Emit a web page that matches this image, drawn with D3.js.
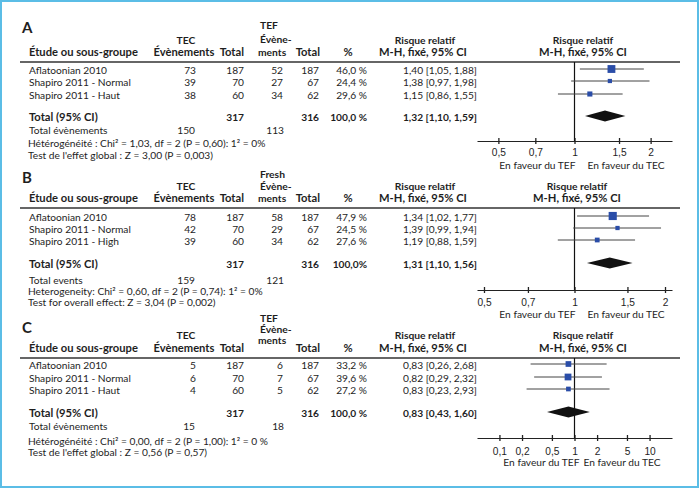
<!DOCTYPE html>
<html>
<head>
<meta charset="utf-8">
<script src="https://cdn.jsdelivr.net/npm/d3@7"></script>
<style>
  body { margin: 0; background: #fff; }
  svg { font-family: Lato, "Open Sans", sans-serif; fill: #1e1e1e; }
</style>
</head>
<body>
<svg width="700" height="489"></svg>
<script>
// ---- data ----
const panelKeys = ["A", "B", "C"];
const studyNames = [
  ["Aflatoonian 2010", "Shapiro 2011 - Normal", "Shapiro 2011 - Haut"],
  ["Aflatoonian 2010", "Shapiro 2011 - Normal", "Shapiro 2011 - High"],
  ["Aflatoonian 2010", "Shapiro 2011 - Normal", "Shapiro 2011 - Haut"],
];
const tecEvents = [[73, 39, 38], [78, 42, 39], [5, 6, 4]];
const tecTotals = [[187, 70, 60], [187, 70, 60], [187, 70, 60]];
const tefEvents = [[52, 27, 34], [58, 29, 34], [6, 7, 5]];
const tefTotals = [[187, 67, 62], [187, 67, 62], [187, 67, 62]];
const weights = [[46.0, 24.4, 29.6], [47.9, 24.5, 27.6], [33.2, 39.6, 27.2]];
const riskRatios = [[1.40, 1.38, 1.15], [1.34, 1.39, 1.19], [0.83, 0.82, 0.83]];
const ciLow = [[1.05, 0.97, 0.86], [1.02, 0.99, 0.88], [0.26, 0.29, 0.23]];
const ciHigh = [[1.88, 1.98, 1.55], [1.77, 1.94, 1.59], [2.68, 2.32, 2.93]];
const totalRR = [1.32, 1.31, 0.83];
const totalLow = [1.10, 1.10, 0.43];
const totalHigh = [1.59, 1.56, 1.60];
const totalTec = [317, 317, 317];
const totalTef = [316, 316, 316];
const totalWeightLabels = ["100,0 %", "100,0%", "100,0 %"];
const totalEventsTec = [150, 159, 15];
const totalEventsTef = [113, 121, 18];
const axisTicks = [
  [0.5, 0.7, 1, 1.5, 2],
  [0.5, 0.7, 1, 1.5, 2],
  [0.1, 0.2, 0.5, 1, 2, 5, 10],
];
const controlHeads = ["TEF", "Fresh", "TEF"];
const eventsLabels = ["Total évènements", "Total events", "Total évènements"];
const heterogeneity = [
  "Hétérogénéité : Chi² = 1,03, df = 2 (P = 0,60): 1²  = 0%",
  "Heterogeneity: Chi² = 0,60, df = 2 (P = 0,74): 1²  = 0%",
  "Hétérogénéité : Chi² = 0,00, df = 2 (P = 1,00): 1²  = 0 %",
];
const overallTest = [
  "Test de l'effet global : Z = 3,00 (P = 0,003)",
  "Test for overall effect: Z = 3,04 (P = 0,002)",
  "Test de l'effet global : Z = 0,56 (P = 0,57)",
];
const favourLabels = ["En faveur du TEF", "En faveur du TEC"];

// ---- layout per panel (y positions are text centres) ----
const layouts = [
  { letterY: 28, tecY: [40, 52], tefY: [25, 39, 52], lineY: 62, rows: [70, 82, 95],
    total: 117, events: 130, het: 143, test: 155, axisY: 141, tickY: 152, favY: 165,
    extent: 2.43, favGap: 6, headX: 583 },
  { letterY: 178, tecY: [186, 198], tefY: [174, 186, 198], lineY: 208, rows: [217, 229, 241],
    total: 264, events: 280, het: 291, test: 302, axisY: 290, tickY: 302, favY: 314,
    extent: 2.11, favGap: 6, headX: 577 },
  { letterY: 328, tecY: [335, 348], tefY: [318, 329, 340], lineY: 358, rows: [365, 378, 390],
    total: 413, events: 426, het: 441, test: 452, axisY: 438, tickY: 451, favY: 462,
    extent: 19.9, favGap: 2, headX: 583 },
];

const comma = (v, f) => d3.format(f)(v).replace(".", ",");
const svg = d3.select("svg");

svg.append("rect")
  .attr("x", 1).attr("y", 1).attr("width", 697).attr("height", 486)
  .attr("fill", "none").attr("stroke", "#5bbde6").attr("stroke-width", 2);

const sizeScale = d3.scaleLinear().domain([20, 50]).range([3.5, 8.5]);
const body = 10.2, head = 11.2, stack = 10.3;

function txt(g, x, y, s, opts = {}) {
  return g.append("text")
    .attr("x", x).attr("y", y).attr("dy", "0.35em")
    .attr("text-anchor", opts.anchor || "start")
    .attr("font-size", opts.size || body)
    .attr("font-weight", opts.bold ? "bold" : null)
    .text(s);
}

panelKeys.forEach((key, p) => {
  const L = layouts[p];
  const g = svg.append("g");

  txt(g, 22, L.letterY, key, { size: 15, bold: true });

  // column headers
  txt(g, 29, L.tecY[1], "Étude ou sous-groupe", { size: head, bold: true });
  txt(g, 186, L.tecY[0], "TEC", { size: stack, bold: true, anchor: "middle" });
  txt(g, 184, L.tecY[1], "Évènements", { size: head, bold: true, anchor: "middle" });
  txt(g, 244, L.tecY[1], "Total", { size: head, bold: true, anchor: "end" });
  txt(g, 260, L.tefY[0], controlHeads[p], { size: stack, bold: true });
  txt(g, 260, L.tefY[1], "Évène-", { size: stack, bold: true });
  txt(g, 258, L.tefY[2], "ments", { size: stack, bold: true });
  txt(g, 320, L.tecY[1], "Total", { size: head, bold: true, anchor: "end" });
  txt(g, 348, L.tecY[1], "%", { size: head, bold: true, anchor: "middle" });
  txt(g, 425, L.tecY[0], "Risque relatif", { size: stack, bold: true, anchor: "middle" });
  txt(g, 423, L.tecY[1], "M-H, fixé, 95% CI", { size: head, bold: true, anchor: "middle" });
  txt(g, L.headX, L.tecY[0], "Risque relatif", { size: stack, bold: true, anchor: "middle" });
  txt(g, L.headX, L.tecY[1], "M-H, fixé, 95% CI", { size: head, bold: true, anchor: "middle" });

  g.append("line")
    .attr("x1", 20).attr("x2", 680).attr("y1", L.lineY).attr("y2", L.lineY)
    .attr("stroke", "#333").attr("stroke-width", 1.5);

  // study rows
  studyNames[p].forEach((name, i) => {
    const y = L.rows[i];
    txt(g, 29, y, name);
    txt(g, 196, y, tecEvents[p][i], { anchor: "end" });
    txt(g, 244, y, tecTotals[p][i], { anchor: "end" });
    txt(g, 283, y, tefEvents[p][i], { anchor: "end" });
    txt(g, 319, y, tefTotals[p][i], { anchor: "end" });
    txt(g, 367, y, comma(weights[p][i], ".1f") + " %", { anchor: "end" });
    txt(g, 477, y,
      `${comma(riskRatios[p][i], ".2f")} [${comma(ciLow[p][i], ".2f")}, ${comma(ciHigh[p][i], ".2f")}]`,
      { anchor: "end" });
  });

  // totals
  txt(g, 29, L.total, "Total (95% CI)", { size: head, bold: true });
  txt(g, 244, L.total, totalTec[p], { bold: true, anchor: "end" });
  txt(g, 319, L.total, totalTef[p], { bold: true, anchor: "end" });
  txt(g, 367, L.total, totalWeightLabels[p], { bold: true, anchor: "end" });
  txt(g, 477, L.total,
    `${comma(totalRR[p], ".2f")} [${comma(totalLow[p], ".2f")}, ${comma(totalHigh[p], ".2f")}]`,
    { bold: true, anchor: "end" });
  txt(g, 29, L.events, eventsLabels[p]);
  txt(g, 195, L.events, totalEventsTec[p], { anchor: "end" });
  txt(g, 284, L.events, totalEventsTef[p], { anchor: "end" });
  txt(g, 28, L.het, heterogeneity[p]);
  txt(g, 28, L.test, overallTest[p]);

  // forest plot
  const x = d3.scaleLog().domain([1 / L.extent, L.extent]).range([477, 672]);

  const axis = d3.axisBottom(x)
    .tickValues(axisTicks[p])
    .tickSize(3)
    .tickSizeOuter(0)
    .tickFormat((d) => String(d).replace(".", ","));
  const ax = g.append("g")
    .attr("transform", `translate(0,${L.axisY})`)
    .call(axis);
  ax.select(".domain").attr("stroke", "#222").attr("stroke-width", 1.2);
  ax.selectAll(".tick line").attr("y1", -3).attr("y2", 3).attr("stroke", "#222").attr("stroke-width", 1.3);
  ax.selectAll(".tick text")
    .attr("y", L.tickY - L.axisY).attr("dy", "0.35em")
    .attr("font-size", body).attr("font-family", null).attr("fill", "#1e1e1e");

  g.append("line")
    .attr("x1", x(1)).attr("x2", x(1))
    .attr("y1", L.lineY).attr("y2", L.axisY)
    .attr("stroke", "#111").attr("stroke-width", 1.2);

  txt(g, x(1) + 7 - L.favGap, L.favY, favourLabels[0], { anchor: "end" });
  txt(g, x(1) + 7 + L.favGap, L.favY, favourLabels[1]);

  studyNames[p].forEach((_n, i) => {
    const y = L.rows[i] - 1;
    g.append("line")
      .attr("x1", x(ciLow[p][i])).attr("x2", x(ciHigh[p][i]))
      .attr("y1", y).attr("y2", y)
      .attr("stroke", "#444").attr("stroke-width", 1);
    const s = sizeScale(weights[p][i]);
    g.append("rect")
      .attr("x", x(riskRatios[p][i]) - s / 2).attr("y", y - s / 2)
      .attr("width", s).attr("height", s)
      .attr("fill", "#2a4da8");
  });

  const ty = L.total - 1;
  g.append("path")
    .attr("d", d3.line()([
      [x(totalLow[p]), ty],
      [x(totalRR[p]), ty - 5.5],
      [x(totalHigh[p]), ty],
      [x(totalRR[p]), ty + 5.5],
    ]) + "Z")
    .attr("fill", "#111");
});
</script>
</body>
</html>
